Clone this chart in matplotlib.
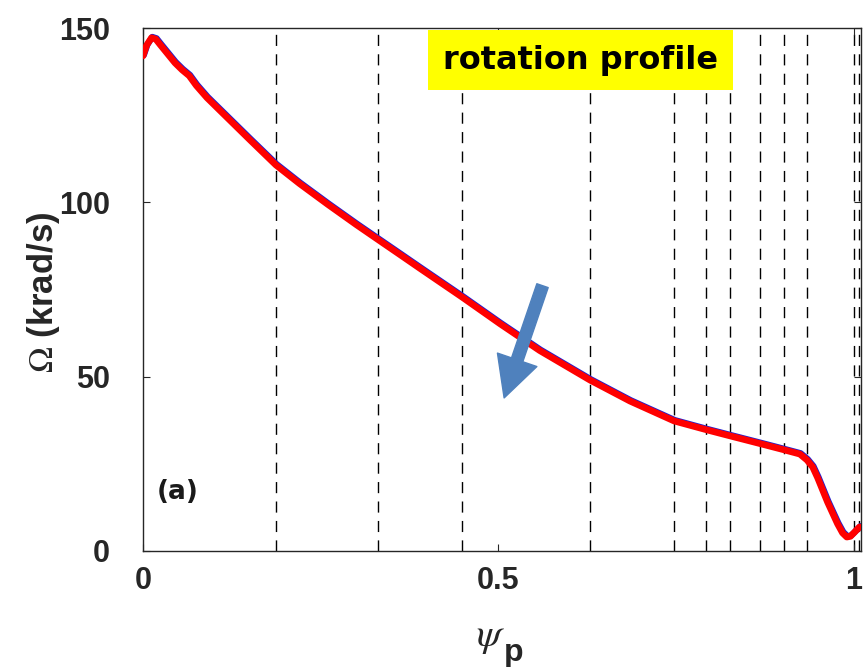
import matplotlib
matplotlib.use("Agg")
import matplotlib.pyplot as plt
import matplotlib.transforms as mtransforms
from matplotlib.patches import Rectangle

plt.rcParams['mathtext.fontset'] = 'stix'

# Normalised poloidal flux and toroidal rotation (krad/s)
psi_p = [0.000, 0.005, 0.012, 0.018, 0.025, 0.035, 0.045, 0.055, 0.065, 0.075,
         0.090, 0.110, 0.130, 0.150, 0.187, 0.220, 0.260, 0.300, 0.330, 0.3615,
         0.390, 0.449, 0.502, 0.558, 0.629, 0.685, 0.747, 0.792, 0.826, 0.868,
         0.902, 0.924, 0.934, 0.942, 0.949, 0.956, 0.963, 0.970, 0.977, 0.984,
         0.990, 0.995, 1.000, 1.008]
omega = [142.0, 145.0, 147.2, 146.8, 145.0, 142.5, 140.0, 138.0, 136.3, 133.5,
         130.0, 126.0, 122.0, 118.0, 110.7, 105.4, 99.4, 93.6, 89.4, 85.0,
         81.0, 72.8, 65.2, 57.5, 49.0, 43.0, 37.3, 34.8, 33.0, 30.8,
         29.0, 27.8, 26.1, 24.1, 21.0, 17.5, 14.0, 10.9, 7.8, 5.2,
         4.0, 4.2, 5.2, 6.9]

# Rational-surface positions marked with dashed lines
surfaces = [0.187, 0.3305, 0.449, 0.629, 0.747, 0.792, 0.826, 0.868, 0.902,
            0.934, 1.000, 1.007]

xticks = [0, 0.5, 1]
xticklabels = ['0', '0.5', '1']
yticks = [0, 50, 100, 150]
yticklabels = ['0', '50', '100', '150']

fig = plt.figure(figsize=(8.63, 6.67), dpi=100)
ax = fig.add_axes([143 / 863, 1 - 551 / 667, 718 / 863, 523 / 667])

for s in surfaces:
    ax.axvline(s, color='black', lw=1.0, dashes=(8, 6), zorder=1)

blue_tr = mtransforms.offset_copy(ax.transData, fig=fig, x=0.8, y=0.8, units='dots')
ax.plot(psi_p, omega, color='#2020d0', lw=4.5, transform=blue_tr, zorder=2,
        solid_capstyle='round')
ax.plot(psi_p, omega, color='#ff0000', lw=4.8, zorder=3, solid_capstyle='round')

ax.set_xlim(0, 1.01)
ax.set_ylim(0, 150)
ax.set_xticks(xticks)
ax.set_xticklabels(xticklabels)
ax.set_yticks(yticks)
ax.set_yticklabels(yticklabels)

for lab in ax.get_xticklabels() + ax.get_yticklabels():
    lab.set_fontfamily('Liberation Sans')
    lab.set_fontweight('bold')
    lab.set_fontsize(22)
    lab.set_color('#262626')
ax.tick_params(axis='both', direction='in', length=5, width=0.8, color='#262626',
               top=True, right=True)
ax.tick_params(axis='x', pad=11)
ax.tick_params(axis='y', pad=24)
for sp in ax.spines.values():
    sp.set_color('#262626')
    sp.set_linewidth(1.0)

# Title box
ax.add_patch(Rectangle((0.397, 0.881), 0.425, 0.115, transform=ax.transAxes,
                       facecolor='#ffff00', edgecolor='none', zorder=4))
ax.text(0.609, 0.937, 'rotation profile', transform=ax.transAxes,
        ha='center', va='center', fontsize=23, fontweight='bold',
        family='DejaVu Sans', color='black', zorder=5)

ax.text(0.049, 0.113, '(a)', transform=ax.transAxes, ha='center', va='center',
        fontsize=19, fontweight='bold', family='DejaVu Sans', color='#1a1a1a', zorder=5)

# Direction arrow
ax.annotate('', xy=(0.508, 43.9), xytext=(0.562, 76.1),
            arrowprops=dict(arrowstyle='simple,head_length=2.9,head_width=3.0,tail_width=0.86',
                            color='#4f81bd', mutation_scale=10, shrinkA=0, shrinkB=0),
            zorder=6)

# Axis labels
fig.text(43 / 863, 1 - 292 / 667, r'$\Omega$ (krad/s)', rotation=90,
         ha='center', va='center', fontsize=25, fontweight='bold',
         family='Liberation Sans', color='#262626')
fig.text(490 / 863, 1 - 636 / 667, r'$\psi$', ha='center', va='center',
         fontsize=29, color='#262626')
fig.text(514 / 863, 1 - 653 / 667, 'p', ha='center', va='center',
         fontsize=23, fontweight='bold', family='Liberation Sans', color='#262626')

fig.savefig('out.png', dpi=100)
